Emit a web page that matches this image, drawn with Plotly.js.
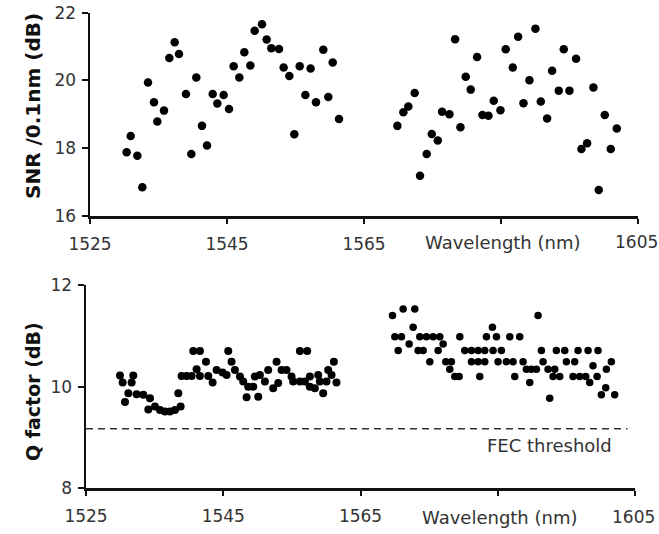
<!DOCTYPE html>
<html>
<head>
<meta charset="utf-8">
<script src="https://cdn.plot.ly/plotly-3.0.1.min.js"></script>
<style>html,body{margin:0;padding:0;background:#fff;}#chart{width:659px;height:534px;}</style>
</head>
<body>
<div id="chart"></div>
<script>
// SNR, C band
const snrWlC = [1530.35,1530.94,1531.91,1532.64,1533.47,1534.34,1534.83,1535.80,1536.58,1537.36,1537.99,1539.01,1539.79,1540.52,1541.35,1542.08,1542.91,1543.59,1544.51,1545.29,1545.97,1546.80,1547.53,1548.41,1549.04,1550.11,1550.79,1551.47,1552.59,1553.27,1554.10,1554.83,1555.61,1556.44,1557.21,1557.99,1559.06,1559.79,1560.43,1561.35];
const snrValC = [17.88,18.36,17.78,16.85,19.94,19.36,18.79,19.11,20.66,21.13,20.78,19.60,17.83,20.09,18.66,18.08,19.60,19.32,19.57,19.16,20.42,20.09,20.83,20.44,21.47,21.66,21.21,20.95,20.93,20.38,20.13,18.41,20.42,19.57,20.35,19.36,20.91,19.51,20.53,18.86];
// SNR, L band
const snrWlL = [1569.87,1570.75,1571.47,1572.40,1573.18,1574.15,1574.89,1575.77,1576.40,1577.47,1578.30,1579.08,1579.85,1580.58,1581.51,1582.29,1583.17,1583.94,1584.92,1585.69,1586.72,1587.50,1588.28,1589.15,1590.03,1590.81,1591.73,1592.46,1593.43,1594.16,1594.99,1595.96,1596.74,1597.57,1598.49,1599.27,1600.15,1601.02,1601.90];
const snrValL = [18.66,19.06,19.23,19.63,17.19,17.83,18.42,18.23,19.08,19.00,21.22,18.62,20.11,19.73,20.69,18.98,18.96,19.40,19.12,20.92,20.38,21.29,19.33,20.01,21.53,19.38,18.88,20.29,19.70,20.92,19.70,20.64,17.98,18.15,19.79,16.77,18.98,17.98,18.58];
// Q factor, C band
const qWlC = [1529.95,1530.34,1530.68,1531.17,1531.65,1531.89,1532.38,1533.35,1534.08,1534.32,1535.05,1535.78,1536.50,1537.23,1537.96,1538.45,1538.79,1538.93,1539.66,1540.39,1540.63,1541.12,1541.60,1541.60,1542.48,1542.82,1543.45,1544.03,1544.90,1545.49,1545.73,1546.21,1546.70,1547.43,1547.91,1548.40,1548.64,1549.37,1549.61,1550.10,1550.34,1551.07,1551.55,1552.28,1552.77,1553.01,1553.50,1554.22,1554.95,1555.19,1556.17,1556.17,1556.89,1557.23,1557.62,1557.62,1558.35,1558.83,1559.08,1559.56,1560.05,1560.29,1560.78,1561.12,1561.50];
const qValC = [10.22,10.08,9.70,9.87,10.08,10.22,9.85,9.84,9.55,9.77,9.61,9.54,9.51,9.51,9.54,9.87,9.61,10.21,10.21,10.21,10.70,10.34,10.70,10.21,10.49,10.21,10.08,10.33,10.28,10.23,10.70,10.49,10.33,10.20,10.10,9.79,10.00,10.00,10.20,9.80,10.23,10.10,10.33,9.97,10.49,10.07,10.33,10.33,10.20,10.10,10.70,10.10,10.10,10.70,10.20,10.00,9.97,10.23,10.10,9.87,10.10,10.33,10.23,10.49,10.08];
// Q factor, L band
const qWlL = [1569.66,1570.00,1570.49,1570.97,1571.21,1572.09,1572.67,1572.91,1573.40,1573.64,1574.13,1574.61,1575.10,1575.58,1576.31,1576.55,1577.04,1577.43,1578.01,1578.25,1578.74,1579.37,1579.47,1580.19,1581.17,1581.17,1582.14,1582.14,1582.38,1583.11,1583.11,1583.35,1584.22,1584.32,1584.81,1585.05,1585.53,1586.26,1586.75,1587.23,1587.48,1588.20,1588.69,1589.17,1589.66,1589.90,1590.63,1590.87,1591.36,1591.60,1592.33,1592.57,1593.06,1593.30,1593.54,1594.03,1594.76,1595.00,1595.97,1596.21,1596.70,1596.94,1597.82,1598.16,1598.40,1598.88,1599.47,1599.61,1600.10,1600.73,1600.83,1601.55,1602.04];
const qValL = [11.40,10.98,10.71,10.98,11.53,10.84,11.17,11.53,10.71,10.98,10.71,10.98,10.49,10.98,10.71,10.98,10.84,10.49,10.34,10.49,10.20,10.20,10.98,10.71,10.71,10.49,10.71,10.49,10.20,10.71,10.49,10.98,11.17,10.71,10.98,10.49,10.71,10.49,10.98,10.49,10.20,10.98,10.49,10.34,10.08,10.34,10.34,11.40,10.71,10.49,10.34,9.77,10.20,10.34,10.71,10.20,10.71,10.49,10.20,10.49,10.71,10.20,10.20,10.71,10.08,10.41,10.20,10.71,9.84,9.98,10.34,10.49,9.84];
// Axis ticks and threshold
const xTickVals = [1525,1545,1565,1585,1605];
const xTickText = ["1525","1545","1565","",""];
const lastTickLabel = "1605";
const snrTicks = [16,18,20,22];
const qTicks = [8,10,12];
const fecThreshold = 9.17;
const fecEnd = 1603.9;

const dot = (s) => ({color:'#000', size:s, line:{width:0}});
const traces = [
  {x:snrWlC, y:snrValC, xaxis:'x', yaxis:'y', mode:'markers', type:'scatter', marker:dot(8.5), hoverinfo:'none'},
  {x:snrWlL, y:snrValL, xaxis:'x', yaxis:'y', mode:'markers', type:'scatter', marker:dot(8.5), hoverinfo:'none'},
  {x:qWlC, y:qValC, xaxis:'x2', yaxis:'y2', mode:'markers', type:'scatter', marker:dot(8), hoverinfo:'none'},
  {x:qWlL, y:qValL, xaxis:'x2', yaxis:'y2', mode:'markers', type:'scatter', marker:dot(7.5), hoverinfo:'none'}
];

const tickFont = {family:'DejaVu Sans', size:17, color:'#333'};
const xAxisBase = {
  range:[1525,1605], tickvals:xTickVals, ticktext:xTickText,
  showline:true, linecolor:'#111', linewidth:2.5, ticks:'outside', ticklen:5, tickwidth:2, tickcolor:'#111',
  showgrid:false, zeroline:false, tickfont:tickFont, ticklabelstandoff:6
};
const yAxisBase = {
  showline:true, linecolor:'#111', linewidth:2.5, ticks:'outside', ticklen:6, tickwidth:2, tickcolor:'#111',
  showgrid:false, zeroline:false, tickfont:tickFont, ticklabelstandoff:2
};

const labelFont = {family:'DejaVu Sans', size:18, color:'#333'};
const layout = {
  width:659, height:534,
  margin:{l:0, r:0, t:0, b:0},
  paper_bgcolor:'#fff', plot_bgcolor:'#fff',
  showlegend:false,
  xaxis:Object.assign({}, xAxisBase, {domain:[90/659, 638/659], anchor:'y'}),
  yaxis:Object.assign({}, yAxisBase, {domain:[1-216/534, 1-12.7/534], range:[16,22], tickvals:snrTicks, anchor:'x'}),
  xaxis2:Object.assign({}, xAxisBase, {domain:[86/659, 635/659], anchor:'y2'}),
  yaxis2:Object.assign({}, yAxisBase, {domain:[1-488.3/534, 1-285/534], range:[8,12], tickvals:qTicks, anchor:'x2'}),
  shapes:[
    {type:'line', xref:'x2', yref:'y2', x0:1525, x1:fecEnd, y0:fecThreshold, y1:fecThreshold,
     line:{color:'#333', width:1.5, dash:'7px,5px'}}
  ],
  annotations:[
    {text:'SNR /0.1nm (dB)', xref:'paper', yref:'paper', x:33/659, y:1-106/534, textangle:-90, showarrow:false,
     font:{family:'DejaVu Sans', size:20, color:'#111', weight:'bold'}, xanchor:'center', yanchor:'middle'},
    {text:'Q factor (dB)', xref:'paper', yref:'paper', x:33/659, y:1-392/534, textangle:-90, showarrow:false,
     font:{family:'DejaVu Sans', size:19, color:'#111', weight:'bold'}, xanchor:'center', yanchor:'middle'},
    {text:'Wavelength (nm)', xref:'paper', yref:'paper', x:503/659, y:1-242/534, showarrow:false,
     font:labelFont, xanchor:'center', yanchor:'middle'},
    {text:'Wavelength (nm)', xref:'paper', yref:'paper', x:500/659, y:1-517/534, showarrow:false,
     font:labelFont, xanchor:'center', yanchor:'middle'},
    {text:lastTickLabel, xref:'paper', yref:'paper', x:636/659, y:1-242/534, showarrow:false,
     font:tickFont, xanchor:'center', yanchor:'middle'},
    {text:lastTickLabel, xref:'paper', yref:'paper', x:633/659, y:1-517/534, showarrow:false,
     font:tickFont, xanchor:'center', yanchor:'middle'},
    {text:'FEC threshold', xref:'paper', yref:'paper', x:549/659, y:1-445/534, showarrow:false,
     font:labelFont, xanchor:'center', yanchor:'middle'}
  ]
};

Plotly.newPlot('chart', traces, layout, {staticPlot:true, displayModeBar:false});
</script>
</body>
</html>
